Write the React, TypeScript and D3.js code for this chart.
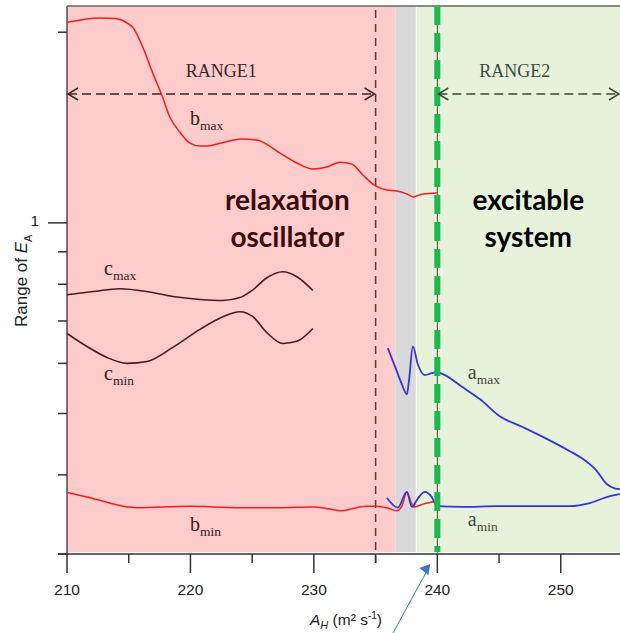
import React, { useEffect, useRef } from 'react';
import * as d3 from 'd3';

// curves: [A_H, E_A]
const bMax: [number, number][] = [
    [210.06, 2.074], [212.67, 2.107], [213.89, 2.102], [214.94, 2.064], [215.34, 2.034],
    [216.15, 1.892], [216.96, 1.722], [217.69, 1.59], [218.34, 1.468], [219.15, 1.39],
    [219.96, 1.336], [220.77, 1.322], [221.34, 1.322], [222.39, 1.336], [224.17, 1.356],
    [225.38, 1.351], [227.25, 1.289], [228.62, 1.243], [229.92, 1.216], [231.05, 1.225],
    [232.11, 1.247], [233.08, 1.238], [233.97, 1.19], [235.02, 1.143], [235.91, 1.127],
    [236.72, 1.123], [237.53, 1.111], [238.02, 1.099], [238.83, 1.111], [239.96, 1.115],
];
const bMin: [number, number][] = [
    [210.06, 0.375], [211.86, 0.368], [214.94, 0.356], [215.67, 0.355], [219.96, 0.357],
    [221.82, 0.356], [224.57, 0.355], [227.25, 0.355], [229.92, 0.356], [231.05, 0.354],
    [232.27, 0.351], [233.16, 0.354], [234.29, 0.357], [235.1, 0.357], [235.91, 0.355],
    [236.72, 0.351], [237.13, 0.357], [237.53, 0.376], [237.85, 0.363], [238.1, 0.356],
    [238.91, 0.36], [239.88, 0.363],
];
const cMax: [number, number][] = [
    [210.0, 0.77], [212.11, 0.779], [214.29, 0.787], [216.48, 0.779], [218.58, 0.765],
    [220.77, 0.757], [222.63, 0.754], [224.01, 0.762], [225.06, 0.784], [226.19, 0.819],
    [227.49, 0.837], [228.62, 0.822], [229.92, 0.782],
];
const cMin: [number, number][] = [
    [210.0, 0.669], [211.62, 0.638], [213.24, 0.613], [214.86, 0.6], [216.48, 0.604],
    [218.58, 0.636], [220.77, 0.679], [222.63, 0.711], [224.01, 0.724], [225.06, 0.711],
    [226.19, 0.671], [227.49, 0.645], [228.62, 0.65], [229.92, 0.681],
];
const aMax: [number, number][] = [
    [235.99, 0.634], [236.56, 0.594], [237.13, 0.556], [237.53, 0.536], [237.69, 0.56],
    [238.02, 0.638], [238.42, 0.598], [238.99, 0.575], [239.55, 0.579], [239.96, 0.581],
    [240.45, 0.577], [242.06, 0.55], [243.44, 0.527], [245.06, 0.495], [246.92, 0.476],
    [248.87, 0.456], [250.73, 0.436], [251.78, 0.424], [252.91, 0.406], [253.72, 0.387],
    [254.37, 0.381], [254.78, 0.38],
];
const aMin: [number, number][] = [
    [235.91, 0.368], [236.8, 0.355], [237.53, 0.376], [237.94, 0.356], [238.42, 0.367],
    [238.99, 0.376], [239.55, 0.369], [239.96, 0.357], [242.06, 0.356], [244.82, 0.357],
    [247.49, 0.357], [250.73, 0.357], [252.35, 0.361], [253.72, 0.369], [254.78, 0.373],
];

// shaded regimes along A_H
const regionNames = ['oscillator', 'transition', 'excitable'];
const regionFrom = [210, 236.6, 238.35];
const regionTo = [236.6, 238.25, 254.8];

const xMajorTicks = [210, 220, 230, 240, 250];
const xMinorTicks = [215, 225, 235, 245, 255];
const yTicks = [2, 1, 0.9, 0.8, 0.7, 0.6, 0.5, 0.4, 0.3];
const yLabelled = [1];

const range1 = [210, 235];
const range2 = [240, 254.8];

// curve labels: [main letter, subscript, A_H, E_A]
const curveLabels: [string, string, number, number][] = [
    ['b', 'max', 219.96, 1.426],
    ['c', 'max', 213.0, 0.828],
    ['c', 'min', 213.0, 0.564],
    ['b', 'min', 219.96, 0.326],
    ['a', 'max', 242.47, 0.566],
    ['a', 'min', 242.47, 0.332],
];

const App: React.FC = () => {
    const svgRef = useRef<SVGSVGElement | null>(null);

    useEffect(() => {
        if (!svgRef.current) return;
        const width = 620;
        const height = 633;
        const margin = { top: 6, right: 0, bottom: 79, left: 67 };
        const bottom = height - margin.bottom;

        const svg = d3.select(svgRef.current)
            .attr('width', width)
            .attr('height', height);
        svg.selectAll('*').remove();

        const x = d3.scaleLinear().domain([210, 254.8]).range([margin.left, width - margin.right]);
        const y = d3.scaleLog().domain([0.3, 2.2]).range([bottom, margin.top]);

        const fills = ['#ffcccc', '#d9d9d9', '#e6f3da'];
        regionNames.forEach((_, i) => {
            svg.append('rect')
                .attr('x', x(regionFrom[i]))
                .attr('y', margin.top)
                .attr('width', x(regionTo[i]) - x(regionFrom[i]))
                .attr('height', bottom - 2 - margin.top)
                .attr('fill', fills[i]);
        });

        svg.append('clipPath').attr('id', 'plot-clip')
            .append('rect')
            .attr('x', margin.left).attr('y', margin.top)
            .attr('width', width - margin.left).attr('height', bottom - margin.top);

        // frame
        svg.append('line')
            .attr('x1', margin.left).attr('x2', width)
            .attr('y1', margin.top).attr('y2', margin.top)
            .attr('stroke', '#666').attr('stroke-width', 1.5);
        svg.append('line')
            .attr('x1', margin.left).attr('x2', margin.left)
            .attr('y1', margin.top).attr('y2', bottom)
            .attr('stroke', '#5a4545').attr('stroke-width', 1.5);

        // vertical markers
        svg.append('line')
            .attr('x1', x(235)).attr('x2', x(235))
            .attr('y1', margin.top + 4).attr('y2', bottom + 9)
            .attr('stroke', '#5a3b3b').attr('stroke-width', 1.5)
            .attr('stroke-dasharray', '8,6');
        svg.append('line')
            .attr('x1', x(240)).attr('x2', x(240))
            .attr('y1', margin.top).attr('y2', bottom)
            .attr('stroke', '#444').attr('stroke-width', 1);

        const line = d3.line<[number, number]>()
            .x(d => x(d[0]))
            .y(d => y(d[1]))
            .curve(d3.curveMonotoneX);

        const plot = svg.append('g').attr('clip-path', 'url(#plot-clip)');
        plot.append('path').attr('d', line(cMax)!).attr('fill', 'none').attr('stroke', '#4a1c1c').attr('stroke-width', 1.6);
        plot.append('path').attr('d', line(cMin)!).attr('fill', 'none').attr('stroke', '#4a1c1c').attr('stroke-width', 1.6);
        plot.append('path').attr('d', line(bMax)!).attr('fill', 'none').attr('stroke', '#ff1a1a').attr('stroke-width', 1.5);
        plot.append('path').attr('d', line(bMin)!).attr('fill', 'none').attr('stroke', '#ff1a1a').attr('stroke-width', 1.5);
        plot.append('path').attr('d', line(aMax)!).attr('fill', 'none').attr('stroke', '#3535d8').attr('stroke-width', 1.8);
        plot.append('path').attr('d', line(aMin)!).attr('fill', 'none').attr('stroke', '#3535d8').attr('stroke-width', 1.8);

        // thick green threshold
        svg.append('line')
            .attr('x1', x(240)).attr('x2', x(240))
            .attr('y1', margin.top).attr('y2', bottom - 2)
            .attr('stroke', '#1cb84e').attr('stroke-width', 6)
            .attr('stroke-dasharray', '19,8');

        // RANGE arrows
        const arrowY = 94;
        const drawRange = (r: number[], label: string, color: string) => {
            const x0 = x(r[0]) + 1;
            const x1 = x(r[1]) - 1;
            svg.append('line')
                .attr('x1', x0).attr('x2', x1)
                .attr('y1', arrowY).attr('y2', arrowY)
                .attr('stroke', color).attr('stroke-width', 1.5)
                .attr('stroke-dasharray', '9,5');
            svg.append('path')
                .attr('d', `M${x0 + 10},${arrowY - 6}L${x0},${arrowY}L${x0 + 10},${arrowY + 6}`)
                .attr('fill', 'none').attr('stroke', color).attr('stroke-width', 1.5);
            svg.append('path')
                .attr('d', `M${x1 - 10},${arrowY - 6}L${x1},${arrowY}L${x1 - 10},${arrowY + 6}`)
                .attr('fill', 'none').attr('stroke', color).attr('stroke-width', 1.5);
            svg.append('text')
                .attr('x', (x(r[0]) + x(r[1])) / 2 + (label === 'RANGE2' ? -14 : 0))
                .attr('y', 77)
                .attr('text-anchor', 'middle')
                .attr('font-family', '"Liberation Serif", serif')
                .attr('font-size', 18)
                .attr('fill', color)
                .text(label);
        };
        drawRange(range1, 'RANGE1', '#3a2626');
        drawRange(range2, 'RANGE2', '#3a4a3a');

        // curve labels
        curveLabels.forEach(([main, sub, lx, ly]) => {
            const t = svg.append('text')
                .attr('x', x(lx))
                .attr('y', y(ly))
                .attr('font-family', '"Liberation Serif", serif')
                .attr('font-size', 20)
                .attr('fill', main === 'a' ? '#3a4a3a' : '#3a1a1a');
            t.append('tspan').text(main);
            t.append('tspan').attr('font-size', 13.5).attr('dy', 5).text(sub);
        });

        // regime names
        const regime = (lines: string[], cx: number, color: string) => {
            lines.forEach((s, i) => {
                svg.append('text')
                    .attr('x', cx)
                    .attr('y', 210 + i * 37)
                    .attr('text-anchor', 'middle')
                    .attr('font-family', 'Lato, "Open Sans", sans-serif')
                    .attr('font-weight', 'bold')
                    .attr('font-size', 28)
                    .attr('fill', color)
                    .text(s);
            });
        };
        regime(['relaxation', 'oscillator'], x(227.85), '#3d0b0b');
        regime(['excitable', 'system'], x(247.37), '#000');

        // x axis
        svg.append('line')
            .attr('x1', margin.left - 9).attr('x2', width)
            .attr('y1', bottom).attr('y2', bottom)
            .attr('stroke', '#333').attr('stroke-width', 1.5);
        xMajorTicks.forEach(t => {
            svg.append('line')
                .attr('x1', x(t)).attr('x2', x(t))
                .attr('y1', bottom).attr('y2', bottom + 19)
                .attr('stroke', '#333').attr('stroke-width', 1.5);
            svg.append('text')
                .attr('x', x(t)).attr('y', 595)
                .attr('text-anchor', 'middle')
                .attr('font-family', '"Liberation Sans", Arial, sans-serif')
                .attr('font-size', 15.5)
                .attr('fill', '#222')
                .text(t);
        });
        xMinorTicks.forEach(t => {
            svg.append('line')
                .attr('x1', x(t)).attr('x2', x(t))
                .attr('y1', bottom).attr('y2', bottom + 9)
                .attr('stroke', '#333').attr('stroke-width', 1.5);
        });

        // y axis ticks
        yTicks.forEach(t => {
            const major = yLabelled.includes(t);
            svg.append('line')
                .attr('x1', margin.left - (major ? 19 : 9)).attr('x2', margin.left)
                .attr('y1', y(t)).attr('y2', y(t))
                .attr('stroke', '#333').attr('stroke-width', 1.5);
            if (major) {
                svg.append('text')
                    .attr('x', 39).attr('y', y(t) + 3)
                    .attr('text-anchor', 'end')
                    .attr('font-family', '"Liberation Sans", Arial, sans-serif')
                    .attr('font-size', 15.5)
                    .attr('fill', '#222')
                    .text(t);
            }
        });

        // axis titles
        const yTitle = svg.append('text')
            .attr('transform', 'translate(27,327) rotate(-90)')
            .attr('font-family', '"Liberation Sans", Arial, sans-serif')
            .attr('font-size', 17)
            .attr('fill', '#222');
        yTitle.append('tspan').text('Range of ');
        yTitle.append('tspan').attr('font-style', 'italic').text('E');
        yTitle.append('tspan').attr('font-size', 11).attr('dy', 5).text('A');

        const xTitle = svg.append('text')
            .attr('x', 310).attr('y', 625)
            .attr('font-family', '"Liberation Sans", Arial, sans-serif')
            .attr('font-size', 15.5)
            .attr('fill', '#222');
        xTitle.append('tspan').attr('font-style', 'italic').text('A');
        xTitle.append('tspan').attr('font-style', 'italic').attr('font-size', 11).attr('dy', 4).text('H');
        xTitle.append('tspan').attr('dy', -4).text(' (m² s');
        xTitle.append('tspan').attr('font-size', 10).attr('dy', -6).text('-1');
        xTitle.append('tspan').attr('dy', 6).text(')');

        // pointer to the threshold
        const tipX = x(240) - 7;
        const tipY = bottom + 10;
        svg.append('line')
            .attr('x1', 393).attr('y1', height)
            .attr('x2', tipX - 4).attr('y2', tipY + 8)
            .attr('stroke', '#4472c4').attr('stroke-width', 1);
        svg.append('path')
            .attr('d', `M${tipX},${tipY}L${tipX - 11},${tipY + 4}L${tipX - 2},${tipY + 11}Z`)
            .attr('fill', '#4472c4');
    }, []);

    return (
        <svg ref={svgRef} style={{ position: 'absolute', left: 0, top: 0, display: 'block' }}></svg>
    );
};

export default App;
